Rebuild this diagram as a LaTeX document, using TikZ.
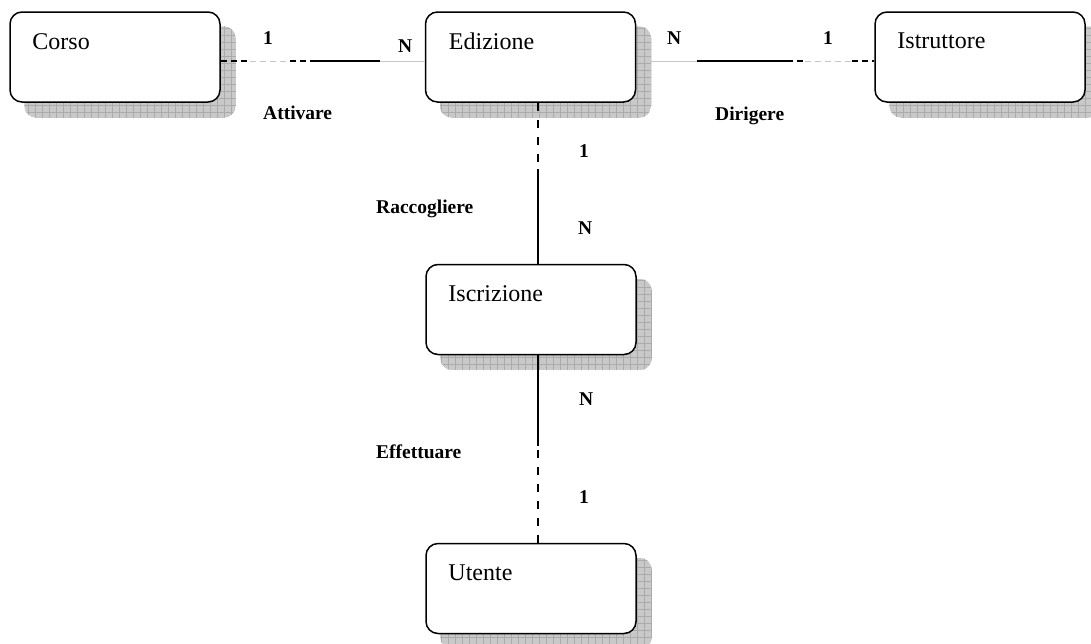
\documentclass[tikz,border=0pt]{standalone}
\usepackage{fontspec}
\setmainfont{Liberation Serif}
\usetikzlibrary{calc,backgrounds}
\tikzset{
  entity/.style={draw, line width=1.5pt, rounded corners=12pt, fill=white,
    minimum width=210pt, minimum height=90pt, inner sep=0pt},
  etext/.style={font=\fontsize{24}{28}\selectfont, inner sep=0pt, anchor=base west},
  card/.style={font=\bfseries\fontsize{19.5}{22}\selectfont, inner sep=0pt, anchor=base west},
  solidline/.style={line width=1.4pt},
  blackdash/.style={line width=1.4pt, dash pattern=on 6pt off 4pt},
  graydash/.style={line width=0.8pt, black!22, dash pattern=on 6pt off 4pt},
  grayline/.style={line width=0.8pt, black!22},
  vdash/.style={line width=1.4pt, dash pattern=on 8pt off 9pt},
}
\begin{document}
\begin{tikzpicture}[x=1pt,y=-1pt]
\useasboundingbox (0,0) rectangle (1091,643);
% entities
\node[entity] (corso) at (115,57) {};
\node[entity] (ediz)  at (530.5,57) {};
\node[entity] (istr)  at (980,57) {};
\node[entity] (iscr)  at (531,309.5) {};
\node[entity] (ute)   at (531,588.5) {};
\node[etext] (corsoT) at ($(corso.north west)+(23,38)$) {Corso};
\node[etext] (edizT)  at ($(ediz.north west)+(24,38)$) {Edizione};
\node[etext] (istrT)  at ($(istr.north west)+(23,37)$) {Istruttore};
\node[etext] (iscrT)  at ($(iscr.north west)+(23,38)$) {Iscrizione};
\node[etext] (uteT)   at ($(ute.north west)+(23,38)$) {Utente};
% shadows
\begin{scope}[on background layer]
\foreach \n in {corso,ediz,istr,iscr,ute}{
  \begin{scope}
    \clip[rounded corners=12pt] ($(\n.north west)+(15,15)$) rectangle ($(\n.south east)+(15,15)$);
    \fill[black!21] ($(\n.north west)+(15,15)$) rectangle ($(\n.south east)+(15,15)$);
    \draw[black!33, line width=0.45pt, step=7pt] ($(\n.north west)+(15,15)$) grid ($(\n.south east)+(15,15)$);
  \end{scope}
}
\end{scope}
% Corso -- Edizione
\coordinate (h1a) at (250,61);
\coordinate (h1b) at (290,61);
\coordinate (h1c) at (312,61);
\coordinate (h1d) at (380,61);
\draw[blackdash] (corso.east |- h1a) -- (h1a);
\draw[graydash] (h1a) -- (h1b);
\draw[blackdash] (h1b) -- (h1c);
\draw[solidline] (h1c) -- (h1d);
\draw[grayline] (h1d) -- (ediz.west |- h1d);
% Edizione -- Istruttore
\coordinate (h2a) at (697,61);
\coordinate (h2b) at (787,61);
\coordinate (h2c) at (805,61);
\coordinate (h2d) at (852,61);
\draw[grayline] ([xshift=14pt]ediz.east |- h2a) -- (h2a);
\draw[solidline] (h2a) -- (h2b);
\draw[blackdash] (h2b) -- (h2c);
\draw[graydash] (h2c) -- (h2d);
\draw[blackdash] (h2d) -- (istr.west |- h2d);
% Edizione -- Iscrizione
\coordinate (v1a) at (538,166);
\coordinate (v1b) at (538,169);
\draw[vdash] (v1a |- ediz.south) -- (v1a);
\draw[solidline] (v1b) -- (v1b |- iscr.north);
% Iscrizione -- Utente
\coordinate (v2a) at (538,446);
\coordinate (v2b) at (538,450);
\draw[solidline] (v2a |- iscr.south) -- (v2a);
\draw[vdash] (v2b) -- (v2b |- ute.north);
% labels
\node[card] (c1) at (263,44) {1};
\node[card] (c2) at (398,52) {N};
\node[card] (r1) at (263,119) {Attivare};
\node[card] (c3) at (667,44) {N};
\node[card] (c4) at (823,44) {1};
\node[card] (r2) at (715,120) {Dirigere};
\node[card] (c5) at (579,157) {1};
\node[card] (c6) at (578,234) {N};
\node[card] (r3) at (376,213) {Raccogliere};
\node[card] (c7) at (579,405) {N};
\node[card] (c8) at (579,503) {1};
\node[card] (r4) at (376,458) {Effettuare};
\end{tikzpicture}
\end{document}
